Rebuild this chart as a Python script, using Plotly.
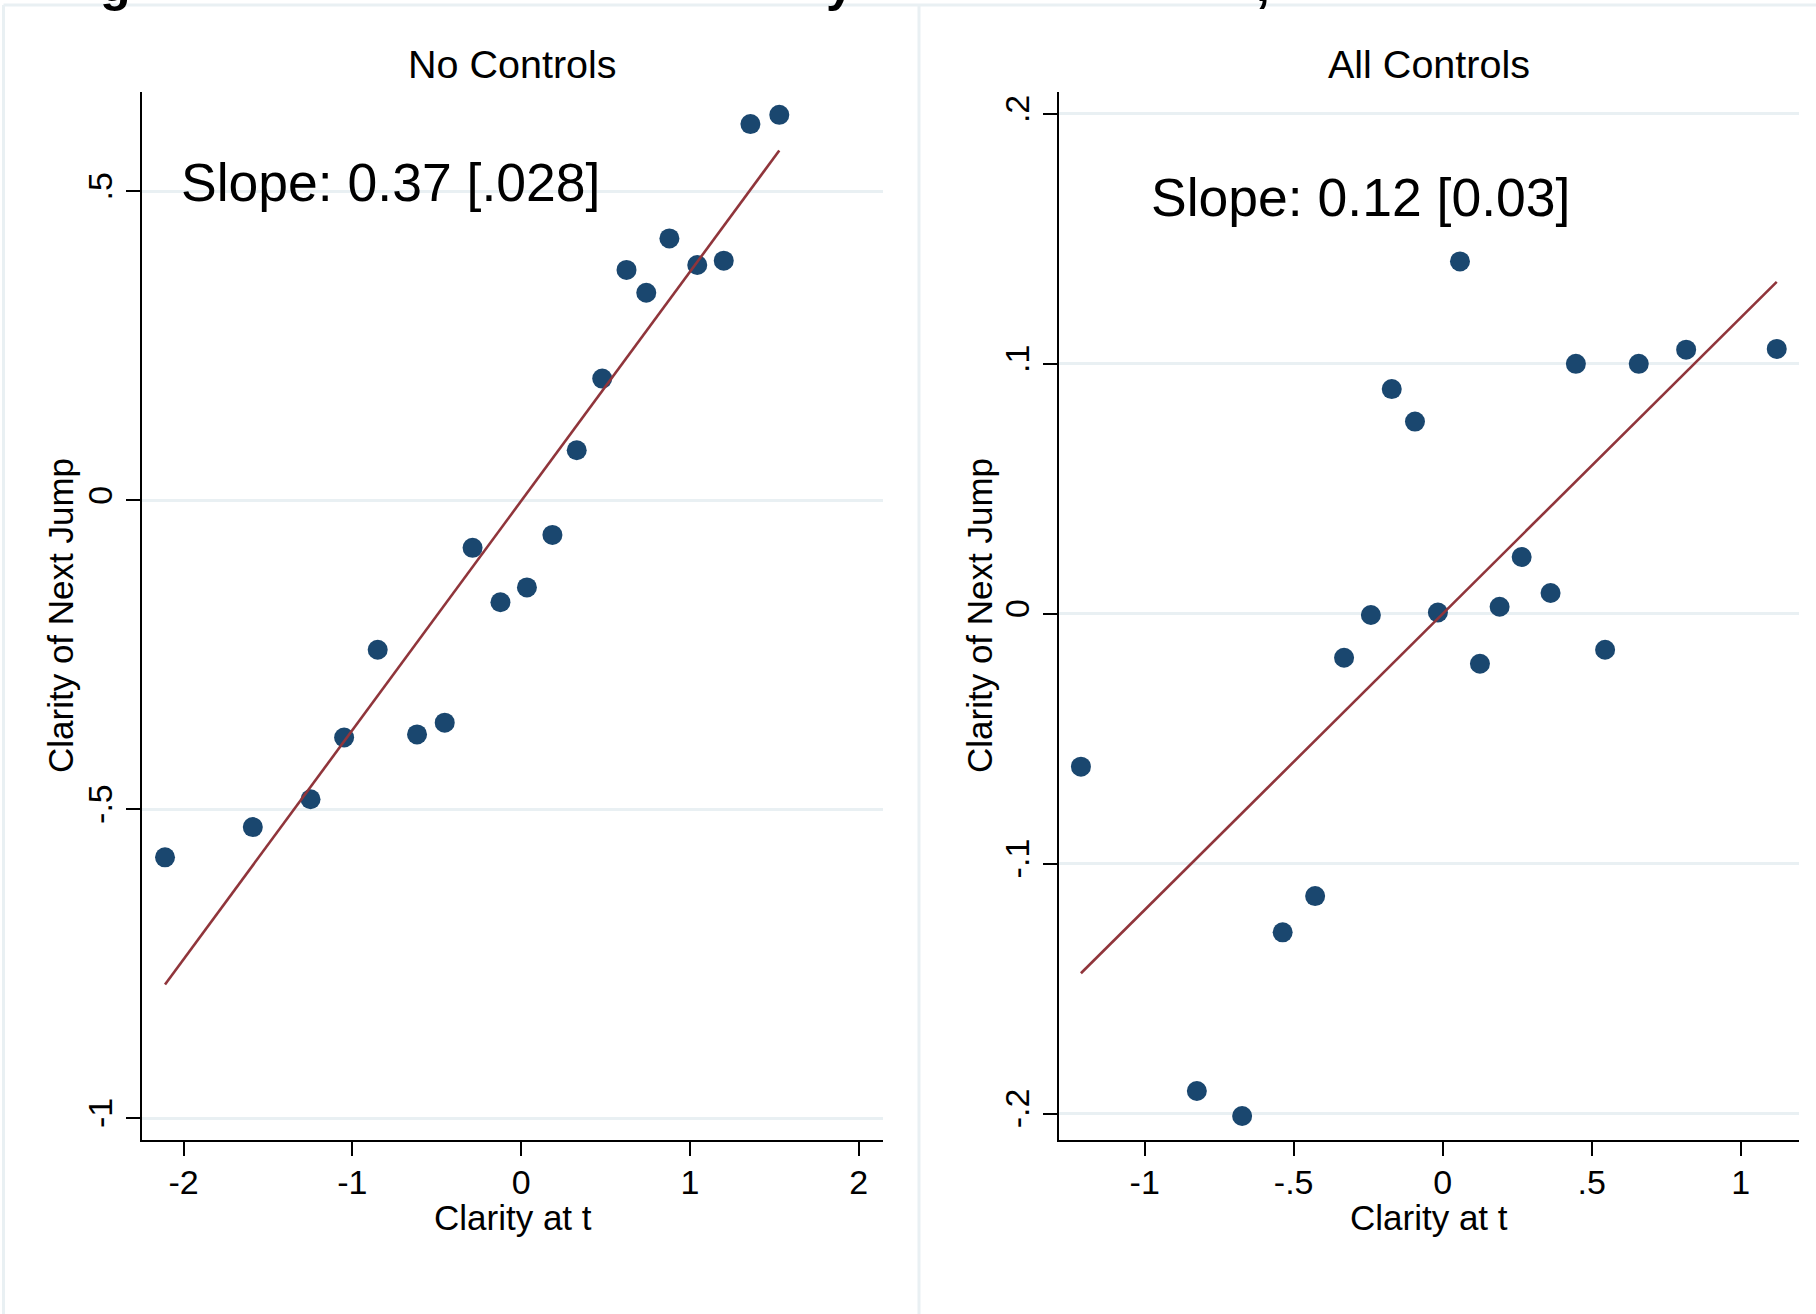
import plotly.graph_objects as go
import numpy as np

W, H = 1816, 1314

# ---- data ----
left_x = [-2.11, -1.59, -1.248, -1.049, -0.850, -0.617, -0.453, -0.288, -0.123, 0.034,
          0.185, 0.329, 0.480, 0.624, 0.741, 0.878, 1.043, 1.200, 1.358, 1.529]
left_y = [-0.578, -0.529, -0.484, -0.384, -0.242, -0.379, -0.360, -0.077, -0.165, -0.141,
          -0.056, 0.081, 0.197, 0.373, 0.336, 0.424, 0.381, 0.388, 0.609, 0.624]
right_x = [-1.214, -0.825, -0.673, -0.537, -0.428, -0.331, -0.241, -0.171, -0.093, -0.016,
           0.058, 0.125, 0.191, 0.265, 0.362, 0.447, 0.545, 0.658, 0.817, 1.121]
right_y = [-0.0612, -0.191, -0.201, -0.1275, -0.113, -0.0176, -0.0005, 0.0899, 0.0769, 0.0005,
           0.141, -0.020, 0.0028, 0.0227, 0.0083, 0.100, -0.0144, 0.100, 0.1057, 0.106]

fit_slope = {"left": 0.371, "right": 0.1185}
fit_intercept = {"left": -0.001, "right": 0.0}

panel_titles = ["No Controls", "All Controls"]
slope_labels = ["Slope: 0.37 [.028]", "Slope: 0.12 [0.03]"]
x_title = "Clarity at t"
y_title = "Clarity of Next Jump"
# only the descenders of the cropped figure title are visible at the top edge
title_fragments = ["g", "y", ","]

left_xticks = [-2, -1, 0, 1, 2]
left_xtick_text = ["-2", "-1", "0", "1", "2"]
left_yticks = [-1, -0.5, 0, 0.5]
left_ytick_text = ["-1", "-.5", "0", ".5"]
right_xticks = [-1, -0.5, 0, 0.5, 1]
right_xtick_text = ["-1", "-.5", "0", ".5", "1"]
right_yticks = [-0.2, -0.1, 0, 0.1, 0.2]
right_ytick_text = ["-.2", "-.1", "0", ".1", ".2"]

# ---- styles ----
NAVY = "#1a476f"
MAROON = "#90353b"
GRID = "#e9f0f3"
FONT = "Liberation Sans"

def px_x(p):
    return p / W

def px_y(p):
    return 1 - p / H

fig = go.Figure()

def add_panel(xs, ys, key, xa, ya):
    fig.add_trace(go.Scatter(x=xs, y=ys, mode="markers", xaxis=xa, yaxis=ya,
                             marker=dict(color=NAVY, size=20, line=dict(width=0)),
                             showlegend=False, hoverinfo="skip"))
    xr = np.array([min(xs), max(xs)])
    yr = fit_intercept[key] + fit_slope[key] * xr
    fig.add_trace(go.Scatter(x=xr, y=yr, mode="lines", xaxis=xa, yaxis=ya,
                             line=dict(color=MAROON, width=2.6),
                             showlegend=False, hoverinfo="skip"))

add_panel(left_x, left_y, "left", "x", "y")
add_panel(right_x, right_y, "right", "x2", "y2")

ydom = [px_y(1140), px_y(92)]
axis_common = dict(showline=True, linecolor="black", linewidth=2, ticks="outside",
                   ticklen=14, tickwidth=2, tickcolor="black", zeroline=False,
                   tickfont=dict(family=FONT, size=34, color="black"), tickmode="array")

fig.update_layout(
    width=W, height=H, paper_bgcolor="white", plot_bgcolor="white",
    margin=dict(l=0, r=0, t=0, b=0),
    xaxis=dict(domain=[px_x(142), px_x(883)], range=[-2.2464, 2.1434],
               tickvals=left_xticks, ticktext=left_xtick_text, showgrid=False,
               anchor="y", ticklabelstandoff=-3, **axis_common),
    yaxis=dict(domain=ydom, range=[-1.0356, 0.661], tickvals=left_yticks,
               ticktext=left_ytick_text, showgrid=True, gridcolor=GRID, gridwidth=3,
               tickangle=-90, anchor="x", **axis_common),
    xaxis2=dict(domain=[px_x(1059), px_x(1799)], range=[-1.2876, 1.1957],
                tickvals=right_xticks, ticktext=right_xtick_text, showgrid=False,
                anchor="y2", ticklabelstandoff=-3, **axis_common),
    yaxis2=dict(domain=ydom, range=[-0.2106, 0.2088], tickvals=right_yticks,
                ticktext=right_ytick_text, showgrid=True, gridcolor=GRID, gridwidth=3,
                tickangle=-90, anchor="x2", **axis_common),
)

ann = []
centers = [px_x(512.5), px_x(1429)]
ytitle_x = [px_x(60), px_x(979)]
for i in range(2):
    ann.append(dict(text=panel_titles[i], x=centers[i], y=px_y(64), xref="paper", yref="paper",
                    xanchor="center", yanchor="middle", showarrow=False,
                    font=dict(family=FONT, size=39.5, color="black")))
    ann.append(dict(text=x_title, x=centers[i], y=px_y(1217), xref="paper", yref="paper",
                    xanchor="center", yanchor="middle", showarrow=False,
                    font=dict(family=FONT, size=35, color="black")))
    ann.append(dict(text=y_title, x=ytitle_x[i], y=px_y(616), xref="paper", yref="paper",
                    xanchor="center", yanchor="middle", showarrow=False, textangle=-90,
                    font=dict(family=FONT, size=35, color="black")))

ann.append(dict(text=slope_labels[0], x=-2.03, y=0.515, xref="x", yref="y",
                xanchor="left", yanchor="middle", showarrow=False,
                font=dict(family=FONT, size=53.5, color="black")))
ann.append(dict(text=slope_labels[1], x=-0.987, y=0.1664, xref="x2", yref="y2",
                xanchor="left", yanchor="middle", showarrow=False,
                font=dict(family=FONT, size=53.5, color="black")))

frag_x = [115, 840, 1263]
for t, fx in zip(title_fragments, frag_x):
    ann.append(dict(text="<b>%s</b>" % t, x=px_x(fx), y=px_y(14), xref="paper", yref="paper",
                    xanchor="center", yanchor="bottom", showarrow=False,
                    font=dict(family=FONT, size=50, color="black")))
fig.update_layout(annotations=ann)

# panel outlines (light)
shapes = [
    dict(type="line", xref="paper", yref="paper", x0=px_x(3.5), x1=1, y0=px_y(5), y1=px_y(5),
         line=dict(color=GRID, width=3)),
    dict(type="line", xref="paper", yref="paper", x0=px_x(3.5), x1=px_x(3.5), y0=px_y(5), y1=0,
         line=dict(color=GRID, width=3)),
    dict(type="line", xref="paper", yref="paper", x0=px_x(919), x1=px_x(919), y0=px_y(5), y1=0,
         line=dict(color=GRID, width=3)),
]
fig.update_layout(shapes=shapes)

fig.write_html("out.html", config={"displayModeBar": False},
               post_script="document.body.style.margin='0px';document.body.style.overflow='hidden';")
